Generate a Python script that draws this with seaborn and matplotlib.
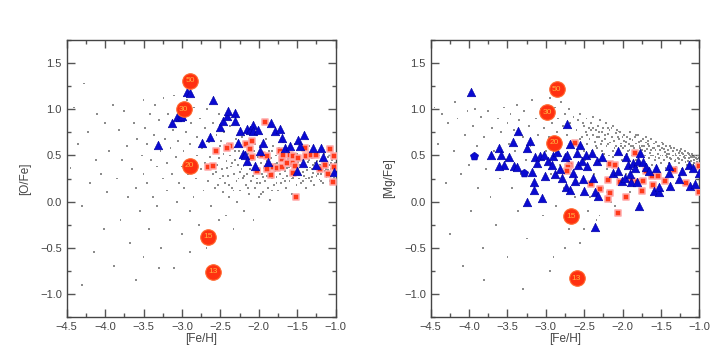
import numpy as np
import pandas as pd
import seaborn as sns
import matplotlib.pyplot as plt
from matplotlib.ticker import MultipleLocator

sns.set_style("ticks")
plt.rcParams['font.family'] = ['Liberation Sans', 'DejaVu Sans']

# background halo stars, [Fe/H] vs [O/Fe]
bg_left = [
    (-4.45, 0.36), (-4.4, 1.02), (-4.35, 0.62), (-4.3, -0.05), (-4.28, 1.28), (-4.22, 0.75),
    (-4.2, 0.2), (-4.15, -0.55), (-4.12, 0.45), (-4.1, 0.95), (-4.05, 0.3), (-4.02, -0.3),
    (-4.0, 0.85), (-4.3, -0.9), (-3.98, 0.1), (-3.95, 0.55), (-3.9, 1.05), (-3.88, -0.7),
    (-3.85, 0.25), (-3.82, 0.78), (-3.8, -0.2), (-3.78, 0.45), (-3.75, 0.98), (-3.72, 0.6),
    (-3.7, 0.05), (-3.68, -0.45), (-3.65, 0.35), (-3.62, 0.85), (-3.6, 0.15), (-3.58, 0.68),
    (-3.55, -0.1), (-3.52, 0.5), (-3.5, 1.1), (-3.5, 0.3), (-3.5, -0.6), (-3.6, -0.85),
    (-3.48, 0.8), (-3.46, 0.2), (-3.45, 0.62), (-3.43, -0.3), (-3.42, 0.95), (-3.4, 0.45),
    (-3.38, 0.05), (-3.36, 0.72), (-3.35, 1.05), (-3.33, -0.05), (-3.32, 0.38), (-3.3, 0.88),
    (-3.28, 0.55), (-3.27, -0.5), (-3.25, 0.25), (-3.24, 1.12), (-3.22, 0.68), (-3.2, 0.12),
    (-3.2, 0.42), (-3.18, 0.95), (-3.16, -0.2), (-3.15, 0.58), (-3.13, 0.3), (-3.12, 0.78),
    (-3.1, 1.15), (-3.1, -0.72), (-3.08, 0.48), (-3.06, 0.0), (-3.05, 0.66), (-3.04, 0.2),
    (-3.02, 0.9), (-3.0, 0.38), (-3.0, -0.35), (-3.3, -0.72), (-2.9, -0.55),
    (-2.98, 0.55), (-2.97, 0.15), (-2.95, 0.75), (-2.94, 1.1), (-2.92, 0.3), (-2.9, -0.1),
    (-2.9, 0.62), (-2.88, 0.85), (-2.87, 0.45), (-2.85, 0.05), (-2.84, 1.02), (-2.82, 0.25),
    (-2.8, 0.7), (-2.8, 0.5), (-2.78, -0.25), (-2.77, 0.9), (-2.75, 0.35), (-2.74, 0.58),
    (-2.72, 0.12), (-2.7, 0.8), (-2.7, 0.42), (-2.68, -0.5), (-2.67, 1.0), (-2.66, 0.22),
    (-2.65, 0.65), (-2.63, 0.48), (-2.62, -0.05), (-2.6, 0.3), (-2.6, 0.85), (-2.58, 0.55),
    (-2.57, 0.15), (-2.55, 0.72), (-2.54, 0.4), (-2.52, -0.2), (-2.52, 0.95), (-2.5, 0.6),
    (-2.5, 0.25), (-2.48, 0.35), (-2.47, 0.1), (-2.46, 0.52), (-2.45, 0.75), (-2.44, 0.2),
    (-2.43, -0.15), (-2.42, 0.44), (-2.41, 0.62), (-2.4, 0.28), (-2.39, 0.05), (-2.38, 0.5),
    (-2.37, 0.82), (-2.36, 0.38), (-2.35, 0.15), (-2.34, 0.58), (-2.33, -0.3), (-2.32, 0.3),
    (-2.31, 0.45), (-2.3, 0.68), (-2.29, 0.22), (-2.28, 0.0), (-2.27, 0.4), (-2.26, 0.55),
    (-2.25, 0.32), (-2.24, 0.12), (-2.23, 0.48), (-2.22, 0.7), (-2.21, 0.26), (-2.2, 0.38),
    (-2.19, -0.1), (-2.18, 0.6), (-2.17, 0.18), (-2.16, 0.42), (-2.15, 0.3), (-2.14, 0.52),
    (-2.13, 0.08), (-2.12, 0.35), (-2.11, 0.65), (-2.1, 0.22), (-2.09, 0.45), (-2.08, 0.28),
    (-2.07, -0.2), (-2.06, 0.55), (-2.05, 0.15), (-2.04, 0.38), (-2.03, 0.72), (-2.02, 0.25),
    (-2.01, 0.48), (-2.0, 0.05), (-2.0, 0.33), (-1.99, 0.6), (-1.98, 0.2), (-1.97, 0.42),
    (-1.96, 0.3), (-1.95, 0.1), (-1.94, 0.5), (-1.93, 0.36), (-1.92, 0.22), (-1.91, 0.68),
    (-1.9, 0.44), (-1.89, 0.28), (-1.88, 0.15), (-1.87, 0.55), (-1.86, 0.35), (-1.85, 0.02),
    (-1.84, 0.47), (-1.83, 0.25), (-1.82, 0.4), (-1.81, 0.6), (-1.8, 0.18), (-1.79, 0.33),
    (-1.78, 0.5), (-1.77, 0.27), (-1.76, 0.42), (-1.75, 0.12), (-1.74, 0.58), (-1.73, 0.3),
    (-1.72, 0.45), (-1.71, 0.2), (-1.7, 0.38), (-1.69, 0.65), (-1.68, 0.25), (-1.67, 0.5),
    (-1.66, 0.33), (-1.65, 0.15), (-1.64, 0.43), (-1.63, 0.28), (-1.62, 0.55), (-1.61, 0.37),
    (-1.6, 0.22), (-1.59, 0.47), (-1.58, 0.32), (-1.57, 0.08), (-1.56, 0.52), (-1.55, 0.26),
    (-1.54, 0.4), (-1.53, 0.62), (-1.52, 0.3), (-1.51, 0.18), (-1.5, 0.45), (-1.49, 0.35),
    (-1.48, 0.25), (-1.47, 0.5), (-1.46, 0.4), (-1.45, 0.2), (-1.44, 0.56), (-1.43, 0.32),
    (-1.42, 0.45), (-1.41, 0.28), (-1.4, 0.38), (-1.39, 0.15), (-1.38, 0.52), (-1.37, 0.34),
    (-1.36, 0.43), (-1.35, 0.26), (-1.34, 0.6), (-1.33, 0.37), (-1.32, 0.22), (-1.31, 0.47),
    (-1.3, 0.31), (-1.29, 0.4), (-1.28, 0.18), (-1.27, 0.54), (-1.26, 0.35), (-1.25, 0.28),
    (-1.24, 0.44), (-1.23, 0.33), (-1.22, 0.5), (-1.21, 0.24), (-1.2, 0.4), (-1.19, 0.3),
    (-1.18, 0.46), (-1.17, 0.36), (-1.16, 0.2), (-1.15, 0.52), (-1.14, 0.33), (-1.13, 0.42),
    (-1.12, 0.27), (-1.11, 0.38), (-1.1, 0.48), (-1.09, 0.3), (-1.08, 0.4), (-1.07, 0.22),
    (-1.06, 0.35), (-1.05, 0.45), (-1.04, 0.3), (-1.03, 0.38), (-1.02, 0.26), (-1.01, 0.42),
    # second pass over the dense core
    (-2.555, 0.32), (-2.515, 0.47), (-2.465, 0.28), (-2.425, 0.58), (-2.385, 0.18), (-2.345, 0.42),
    (-2.305, 0.55), (-2.265, 0.25), (-2.225, 0.35), (-2.185, 0.48), (-2.145, 0.15), (-2.105, 0.58),
    (-2.065, 0.37), (-2.025, 0.2), (-1.985, 0.52), (-1.945, 0.27), (-1.905, 0.33), (-1.865, 0.46),
    (-1.825, 0.12), (-1.785, 0.41), (-1.745, 0.35), (-1.705, 0.52), (-1.665, 0.22), (-1.625, 0.46),
    (-1.585, 0.38), (-1.545, 0.33), (-1.505, 0.52), (-1.465, 0.3), (-1.425, 0.4), (-1.385, 0.25),
    (-1.345, 0.45), (-1.305, 0.35), (-1.265, 0.42), (-1.225, 0.3), (-1.185, 0.38), (-1.145, 0.45),
    (-1.105, 0.34), (-1.065, 0.42), (-1.025, 0.33),
    (-2.53, 0.18), (-2.49, 0.66), (-2.41, 0.36), (-2.33, 0.12), (-2.27, 0.6), (-2.19, 0.28),
    (-2.13, 0.4), (-2.05, 0.62), (-1.97, 0.08), (-1.91, 0.4), (-1.83, 0.55), (-1.77, 0.2),
    (-1.69, 0.44), (-1.63, 0.36), (-1.57, 0.25), (-1.49, 0.43), (-1.43, 0.22), (-1.37, 0.5),
    (-1.31, 0.27), (-1.25, 0.38), (-1.19, 0.22), (-1.13, 0.35), (-1.07, 0.5), (-1.01, 0.32),
]

# background halo stars, [Fe/H] vs [Mg/Fe]
bg_right = [
    (-4.45, 1.02), (-4.4, 0.62), (-4.35, 0.95), (-4.3, 0.2), (-4.28, 0.85), (-4.25, -0.35),
    (-4.2, 0.55), (-4.18, 1.08), (-4.15, 0.9), (-4.1, 0.3), (-4.08, -0.7), (-4.05, 0.72),
    (-4.02, 0.98), (-4.0, 0.4), (-3.97, -0.1), (-3.95, 0.82), (-3.92, 1.0), (-3.9, 0.6),
    (-3.88, 0.15), (-3.85, 0.92), (-3.82, -0.5), (-3.8, 0.7), (-3.78, 0.35), (-3.75, 0.98),
    (-3.72, 0.05), (-3.7, 0.8), (-3.68, 0.55), (-3.65, -0.25), (-3.62, 0.9), (-3.6, 0.25),
    (-3.58, 0.75), (-3.55, 1.02), (-3.52, 0.45), (-3.5, -0.6), (-3.5, 0.85), (-3.8, -0.85),
    (-3.48, 0.62), (-3.46, 0.95), (-3.44, 0.15), (-3.42, 0.78), (-3.4, 0.55), (-3.38, 1.05),
    (-3.36, -0.1), (-3.35, 0.88), (-3.33, 0.3), (-3.3, 0.7), (-3.28, 0.98), (-3.26, 0.45),
    (-3.25, -0.4), (-3.22, 0.82), (-3.2, 0.6), (-3.18, 1.1), (-3.15, 0.2), (-3.13, 0.9),
    (-3.1, 0.72), (-3.08, 0.38), (-3.06, 1.0), (-3.04, -0.15), (-3.02, 0.8), (-3.0, 0.55),
    (-3.3, -0.95), (-2.95, -0.75), (-2.9, -0.6), (-2.75, -0.5), (-2.5, -0.3), (-2.3, -0.15),
    (-2.1, -0.05), (-2.45, -0.1), (-2.2, 0.1), (-1.9, 0.1),
    (-2.98, 0.95), (-2.96, 0.7), (-2.95, 1.12), (-2.93, 0.3), (-2.92, 0.85), (-2.9, 0.55),
    (-2.88, 1.02), (-2.87, -0.05), (-2.85, 0.75), (-2.84, 0.9), (-2.82, 0.4), (-2.8, 1.08),
    (-2.8, 0.62), (-2.78, 0.82), (-2.77, 0.15), (-2.75, 0.95), (-2.74, 0.5), (-2.72, 0.72),
    (-2.7, 1.0), (-2.7, -0.3), (-2.68, 0.85), (-2.67, 0.35), (-2.65, 0.65), (-2.64, 0.92),
    (-2.62, 0.05), (-2.6, 0.78), (-2.6, 0.48), (-2.58, 0.88), (-2.57, 0.6), (-2.55, -0.45),
    (-2.55, 0.95), (-2.53, 0.7), (-2.52, 0.25), (-2.5, 0.82), (-2.5, 0.55),
    (-2.48, 0.75), (-2.47, 0.9), (-2.46, 0.62), (-2.45, 0.4), (-2.44, 0.8), (-2.43, 0.68),
    (-2.42, 0.05), (-2.41, 0.85), (-2.4, 0.55), (-2.39, 0.72), (-2.38, 0.92), (-2.37, 0.3),
    (-2.36, 0.65), (-2.35, 0.78), (-2.34, -0.2), (-2.33, 0.58), (-2.32, 0.82), (-2.31, 0.7),
    (-2.3, 0.45), (-2.29, 0.88), (-2.28, 0.62), (-2.27, 0.75), (-2.26, 0.15), (-2.25, 0.8),
    (-2.24, 0.52), (-2.23, 0.68), (-2.22, 0.85), (-2.21, 0.6), (-2.2, 0.35), (-2.19, 0.73),
    (-2.18, 0.5), (-2.17, 0.78), (-2.16, 0.64), (-2.15, 0.0), (-2.14, 0.7), (-2.13, 0.55),
    (-2.12, 0.82), (-2.11, 0.66), (-2.1, 0.42), (-2.09, 0.74), (-2.08, 0.6), (-2.07, 0.78),
    (-2.06, 0.25), (-2.05, 0.68), (-2.04, 0.52), (-2.03, 0.75), (-2.02, 0.63), (-2.01, 0.45),
    (-2.0, 0.7), (-1.99, 0.58), (-1.98, 0.72), (-1.97, 0.48), (-1.96, 0.65), (-1.95, 0.3),
    (-1.94, 0.7), (-1.93, 0.55), (-1.92, 0.62), (-1.91, 0.42), (-1.9, 0.75), (-1.89, 0.6),
    (-1.88, 0.5), (-1.87, 0.67), (-1.86, 0.2), (-1.85, 0.58), (-1.84, 0.7), (-1.83, 0.45),
    (-1.82, 0.63), (-1.81, 0.55), (-1.8, 0.72), (-1.79, 0.38), (-1.78, 0.6), (-1.77, 0.5),
    (-1.76, 0.66), (-1.75, 0.56), (-1.74, 0.43), (-1.73, 0.68), (-1.72, 0.6), (-1.71, 0.5),
    (-1.7, 0.64), (-1.69, 0.35), (-1.68, 0.57), (-1.67, 0.66), (-1.66, 0.47), (-1.65, 0.6),
    (-1.64, 0.53), (-1.63, 0.68), (-1.62, 0.4), (-1.61, 0.58), (-1.6, 0.5), (-1.59, 0.63),
    (-1.58, 0.45), (-1.57, 0.56), (-1.56, 0.65), (-1.55, 0.38), (-1.54, 0.52), (-1.53, 0.6),
    (-1.52, 0.47), (-1.51, 0.56), (-1.5, 0.42), (-1.49, 0.58), (-1.48, 0.5), (-1.47, 0.62),
    (-1.46, 0.45), (-1.45, 0.54), (-1.44, 0.36), (-1.43, 0.6), (-1.42, 0.48), (-1.41, 0.56),
    (-1.4, 0.42), (-1.39, 0.52), (-1.38, 0.6), (-1.37, 0.46), (-1.36, 0.33), (-1.35, 0.55),
    (-1.34, 0.5), (-1.33, 0.58), (-1.32, 0.44), (-1.31, 0.52), (-1.3, 0.38), (-1.29, 0.56),
    (-1.28, 0.47), (-1.27, 0.53), (-1.26, 0.42), (-1.25, 0.5), (-1.24, 0.57), (-1.23, 0.45),
    (-1.22, 0.35), (-1.21, 0.52), (-1.2, 0.48), (-1.19, 0.55), (-1.18, 0.43), (-1.17, 0.5),
    (-1.16, 0.4), (-1.15, 0.53), (-1.14, 0.47), (-1.13, 0.36), (-1.12, 0.5), (-1.11, 0.44),
    (-1.1, 0.52), (-1.09, 0.4), (-1.08, 0.48), (-1.07, 0.45), (-1.06, 0.5), (-1.05, 0.38),
    (-1.04, 0.47), (-1.03, 0.43), (-1.02, 0.5), (-1.01, 0.41),
    # second pass over the dense band
    (-2.555, 0.68), (-2.515, 0.85), (-2.465, 0.72), (-2.425, 0.5), (-2.385, 0.8), (-2.345, 0.6),
    (-2.305, 0.75), (-2.265, 0.55), (-2.225, 0.72), (-2.185, 0.62), (-2.145, 0.8), (-2.105, 0.58),
    (-2.065, 0.7), (-2.025, 0.6), (-1.985, 0.66), (-1.945, 0.52), (-1.905, 0.68), (-1.865, 0.6),
    (-1.825, 0.52), (-1.785, 0.65), (-1.745, 0.6), (-1.705, 0.55), (-1.665, 0.62), (-1.625, 0.5),
    (-1.585, 0.58), (-1.545, 0.6), (-1.505, 0.5), (-1.465, 0.57), (-1.425, 0.52), (-1.385, 0.47),
    (-1.345, 0.55), (-1.305, 0.5), (-1.265, 0.46), (-1.225, 0.53), (-1.185, 0.47), (-1.145, 0.44),
    (-1.105, 0.48), (-1.065, 0.42), (-1.025, 0.46),
    (-2.53, 0.6), (-2.49, 0.45), (-2.41, 0.78), (-2.33, 0.7), (-2.27, 0.66), (-2.19, 0.8),
    (-2.13, 0.48), (-2.05, 0.76), (-1.97, 0.6), (-1.91, 0.56), (-1.83, 0.72), (-1.77, 0.58),
    (-1.69, 0.7), (-1.63, 0.56), (-1.57, 0.48), (-1.49, 0.64), (-1.43, 0.5), (-1.37, 0.58),
    (-1.31, 0.45), (-1.25, 0.55), (-1.19, 0.5), (-1.13, 0.52), (-1.07, 0.48), (-1.01, 0.47),
]

# blue triangles, left panel
tri_o_feh = [-2.94, -2.90, -2.59, -3.13, -3.07, -3.03, -3.0, -3.31, -2.74, -2.64, -2.51, -2.46,
             -2.42, -2.40, -2.31, -2.31, -2.25, -2.27, -2.16, -2.11, -2.07, -2.07, -2.01, -2.20,
             -2.18, -2.16, -2.05, -1.98, -1.94, -1.84, -1.79, -1.72, -1.70, -1.66, -1.59, -1.88,
             -1.49, -1.41, -1.46, -1.43, -1.50, -1.29, -1.19, -1.26, -1.16, -1.02]
tri_o_val = [1.19, 1.18, 1.10, 0.85, 0.92, 0.92, 0.93, 0.61, 0.64, 0.70, 0.81, 0.87,
             0.93, 0.98, 0.96, 0.87, 0.77, 0.63, 0.79, 0.78, 0.83, 0.77, 0.78, 0.52,
             0.50, 0.44, 0.39, 0.55, 0.64, 0.85, 0.77, 0.79, 0.69, 0.58, 0.60, 0.43,
             0.67, 0.72, 0.60, 0.42, 0.33, 0.58, 0.58, 0.40, 0.48, 0.32]

# red squares, left panel
sq_o_feh = [-1.92, -2.56, -2.66, -2.59, -2.38, -2.42, -2.17, -2.09, -2.11, -2.09, -2.03, -1.96,
            -1.89, -1.83, -1.84, -1.77, -1.72, -1.70, -1.68, -1.70, -1.59, -1.55, -1.63, -1.56,
            -1.53, -1.55, -1.49, -1.40, -1.38, -1.32, -1.25, -1.20, -1.14, -1.10, -1.07, -1.02,
            -1.02, -1.03, -1.52, -1.89]
sq_o_val = [0.86, 0.55, 0.38, 0.39, 0.60, 0.58, 0.62, 0.66, 0.57, 0.48, 0.33, 0.50,
            0.49, 0.37, 0.29, 0.36, 0.55, 0.46, 0.51, 0.37, 0.51, 0.49, 0.42, 0.42,
            0.39, 0.31, 0.47, 0.58, 0.49, 0.51, 0.51, 0.35, 0.40, 0.30, 0.57, 0.49,
            0.37, 0.21, 0.05, 0.35]

# blue triangles, right panel
tri_mg_feh = [-3.97, -3.72, -3.61, -3.58, -3.55, -3.61, -3.48, -3.43, -3.36, -3.41, -3.38, -3.25,
              -3.21, -3.18, -3.15, -3.16, -3.24, -3.05, -3.14, -3.12, -3.08, -3.02, -3.01, -2.97,
              -2.92, -2.90, -2.86, -2.88, -2.82, -2.79, -2.75, -2.72, -2.73, -2.69, -2.74, -2.68,
              -2.64, -2.62, -2.60, -2.58, -2.55, -2.53, -2.51, -2.50, -2.47, -2.46, -2.40, -2.38,
              -2.36, -2.33, -2.32, -2.27, -2.36, -2.06, -2.12, -2.06, -2.01, -1.97, -1.95, -1.93,
              -1.90, -1.89, -1.86, -1.84, -1.80, -1.77, -1.78, -1.81, -1.73, -1.70, -1.66, -1.59,
              -1.52, -1.56, -1.53, -1.40, -1.39, -1.38, -1.23, -1.26, -1.14, -1.12, -1.08, -1.06,
              -1.01]
tri_mg_val = [1.19, 0.51, 0.58, 0.50, 0.40, 0.39, 0.48, 0.65, 0.77, 0.39, 0.37, 0.58,
              0.66, 0.32, 0.21, 0.13, 0.00, 0.04, 0.48, 0.42, 0.49, 0.50, 0.28, 0.44,
              0.40, 0.49, 0.54, 0.30, 0.35, 0.26, 0.48, 0.84, 0.50, 0.62, 0.16, 0.13,
              0.31, 0.22, 0.53, 0.40, 0.61, 0.44, 0.24, 0.12, 0.51, 0.39, 0.53, 0.26,
              0.10, 0.44, 0.06, 0.48, -0.28, 0.55, 0.31, 0.33, 0.22, 0.26, 0.48, 0.40,
              0.30, 0.21, 0.42, 0.36, 0.44, 0.53, -0.05, 0.21, 0.43, 0.38, 0.33, 0.12,
              0.10, 0.36, 0.16, 0.39, 0.31, 0.17, 0.33, 0.24, 0.40, 0.17, 0.36, 0.19,
              0.31]

# blue pentagons, right panel
pent_mg_feh = [-3.94, -3.29]
pent_mg_val = [0.49, 0.31]

# red squares, right panel
sq_mg_feh = [-2.62, -2.69, -2.71, -2.73, -2.41, -2.30, -2.19, -2.16, -2.10, -2.16, -2.19, -2.06,
             -2.03, -1.95, -1.84, -1.88, -1.81, -1.75, -1.74, -1.69, -1.62, -1.60, -1.54, -1.45,
             -1.33, -1.17, -1.01, -1.01]
sq_mg_val = [0.64, 0.40, 0.38, 0.33, 0.19, 0.14, 0.23, 0.41, 0.40, 0.09, 0.03, -0.12,
             0.21, 0.05, 0.53, 0.22, 0.21, 0.12, 0.22, 0.33, 0.28, 0.18, 0.28, 0.22,
             0.34, 0.20, 0.10, 0.39]

# supernova model yields (progenitor mass labels)
sn_mass = ['50', '30', '20', '15', '13']
sn_o_feh = [-2.89, -2.98, -2.90, -2.66, -2.59]
sn_o_val = [1.31, 1.00, 0.39, -0.38, -0.76]
sn_mg_feh = [-2.86, -2.98, -2.89, -2.67, -2.60]
sn_mg_val = [1.22, 0.97, 0.64, -0.16, -0.83]

fig = plt.figure(figsize=(7.28, 3.61), dpi=100)
ax1 = fig.add_axes([0.0916, 0.1219, 0.3695, 0.767])
ax2 = fig.add_axes([0.5916, 0.1219, 0.369, 0.767])

panels = [
    (ax1, bg_left, tri_o_feh, tri_o_val, sq_o_feh, sq_o_val, sn_o_feh, sn_o_val, '[O/Fe]'),
    (ax2, bg_right, tri_mg_feh, tri_mg_val, sq_mg_feh, sq_mg_val, sn_mg_feh, sn_mg_val, '[Mg/Fe]'),
]

for ax, bg, tx, ty, sx, sy, cx, cy, ylab in panels:
    bg_df = pd.DataFrame(bg, columns=['feh', 'xfe'])
    sns.scatterplot(data=bg_df, x='feh', y='xfe', ax=ax, s=1.8, marker='s',
                    color='#8c8c8c', edgecolor='none', linewidth=0, zorder=1)
    sns.scatterplot(x=sx, y=sy, ax=ax, s=22, marker='s', color='#ff3a1a',
                    edgecolor='#ffa8a8', linewidth=1.1, zorder=3)
    sns.scatterplot(x=tx, y=ty, ax=ax, s=38, marker='^', color='#0a0ad2',
                    edgecolor='#0000a0', linewidth=0.4, zorder=4)
    sns.scatterplot(x=cx, y=cy, ax=ax, s=125, marker='o', color='#ff3010',
                    edgecolor='#ff6a30', linewidth=0.8, zorder=5)
    for lab, xx, yy in zip(sn_mass, cx, cy):
        ax.text(xx, yy, lab, ha='center', va='center', fontsize=6,
                color='#ffb040', zorder=6)

    ax.set_xlim(-4.5, -1.0)
    ax.set_ylim(-1.25, 1.75)
    ax.xaxis.set_major_locator(MultipleLocator(0.5))
    ax.xaxis.set_minor_locator(MultipleLocator(0.25))
    ax.yaxis.set_major_locator(MultipleLocator(0.5))
    ax.yaxis.set_minor_locator(MultipleLocator(0.25))
    ax.set_yticks([-1.0, -0.5, 0.0, 0.5, 1.0, 1.5])
    ax.tick_params(which='both', direction='in', top=True, right=True,
                   colors='#555555', labelcolor='#444444', labelsize=8, width=1)
    ax.tick_params(which='major', length=6)
    ax.tick_params(which='minor', length=3)
    ax.set_xlabel('[Fe/H]', fontsize=8.5, color='#444444', labelpad=1)
    ax.set_ylabel(ylab, fontsize=8.5, color='#444444', labelpad=6)
    for sp in ax.spines.values():
        sp.set_color('#444444')
        sp.set_linewidth(1.0)

ax2.scatter(pent_mg_feh, pent_mg_val, s=38, marker='p', color='#0a0ad2',
            edgecolor='#0000a0', linewidth=0.4, zorder=4)

fig.savefig('out.png', dpi=100)
